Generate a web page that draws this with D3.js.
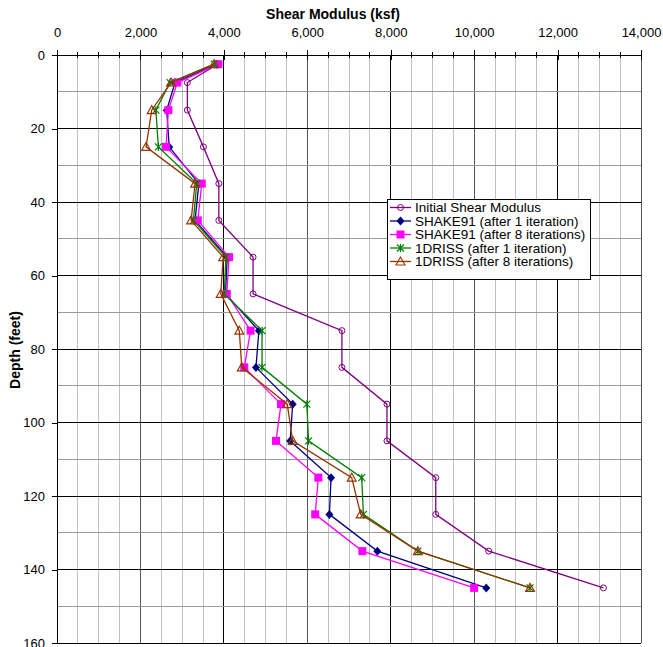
<!DOCTYPE html>
<html>
<head>
<meta charset="utf-8">
<script src="https://cdn.jsdelivr.net/npm/d3@7"></script>
<style>
  html, body { margin: 0; padding: 0; background: #fff; }
  svg { display: block; font-family: "Liberation Sans", Arial, sans-serif; }
</style>
</head>
<body>
<svg id="chart" width="663" height="647"></svg>
<script>
// Depth of each layer midpoint (feet)
const depths = [2.5, 7.5, 15, 25, 35, 45, 55, 65, 75, 85, 95, 105, 115, 125, 135, 145];

// Shear modulus profiles (ksf)
const initialG = [3850, 3125, 3125, 3510, 3880, 3880, 4700, 4700, 6830, 6830, 7910, 7910, 9080, 9080, 10350, 13100];
const shake1G  = [3830, 2830, 2630, 2690, 3400, 3310, 4080, 4040, 4840, 4770, 5650, 5590, 6570, 6530, 7680, 10290];
const shake8G  = [3870, 2885, 2670, 2615, 3470, 3375, 4125, 4070, 4640, 4490, 5370, 5250, 6265, 6190, 7320, 10000];
const driss1G  = [3770, 2710, 2370, 2430, 3350, 3270, 4050, 4010, 4915, 4915, 5990, 6030, 7305, 7345, 8650, 11340];
const driss8G  = [3765, 2735, 2270, 2135, 3310, 3215, 3985, 3925, 4370, 4430, 5520, 5650, 7065, 7280, 8650, 11340];

const seriesNames = [
  "Initial Shear Modulus",
  "SHAKE91 (after 1 iteration)",
  "SHAKE91 (after 8 iterations)",
  "1DRISS (after 1 iteration)",
  "1DRISS (after 8 iterations)"
];
const seriesColors = ["#800080", "#000080", "#FF00FF", "#008000", "#993300"];
const seriesMarkers = ["circle", "diamond", "square", "star", "triangle"];
const seriesValues = [initialG, shake1G, shake8G, driss1G, driss8G];

const xTicks = [0, 2000, 4000, 6000, 8000, 10000, 12000, 14000];
const yTicks = [0, 20, 40, 60, 80, 100, 120, 140, 160];

const svg = d3.select("#chart");
const plotLeft = 57, plotRight = 641, plotTop = 55, plotBottom = 643;

const x = d3.scaleLinear().domain([0, 14000]).range([plotLeft, plotRight]);
const y = d3.scaleLinear().domain([0, 160]).range([plotTop, plotBottom]);

// Gridlines
const grid = svg.append("g");
d3.range(500, 14001, 500).forEach(v => {
  const major = v % 2000 === 0;
  let col = "#c0c0c0";
  if (major) col = (v % 4000 === 0) ? "#000" : "#555";
  grid.append("line")
    .attr("x1", x(v)).attr("x2", x(v))
    .attr("y1", plotTop).attr("y2", plotBottom)
    .attr("stroke", col).attr("stroke-width", 1)
    .attr("shape-rendering", "crispEdges");
});
d3.range(10, 161, 10).forEach(v => {
  const major = v % 20 === 0;
  grid.append("line")
    .attr("x1", plotLeft).attr("x2", plotRight)
    .attr("y1", y(v)).attr("y2", y(v))
    .attr("stroke", major ? "#000" : "#999").attr("stroke-width", 1)
    .attr("shape-rendering", "crispEdges");
});

// Top axis
const xAxis = d3.axisTop(x).tickValues(xTicks).tickFormat(d3.format(",")).tickSize(5).tickSizeOuter(0);
const gx = svg.append("g").attr("transform", `translate(0,${plotTop})`).call(xAxis);
gx.select(".domain").attr("stroke", "#000").attr("shape-rendering", "crispEdges");
gx.selectAll(".tick line").attr("y2", -5).attr("y1", 5).attr("stroke", "#000").attr("shape-rendering", "crispEdges");
gx.selectAll(".tick text").attr("y", -18).attr("font-size", 13).attr("fill", "#000")
  .attr("font-family", "'Liberation Sans', Arial, sans-serif");
// minor ticks on the top axis
d3.range(500, 14000, 500).filter(v => v % 2000 !== 0).forEach(v => {
  svg.append("line").attr("x1", x(v)).attr("x2", x(v)).attr("y1", plotTop - 3).attr("y2", plotTop + 3)
    .attr("stroke", "#000").attr("shape-rendering", "crispEdges");
});

// Left axis
const yAxis = d3.axisLeft(y).tickValues(yTicks).tickSize(5).tickSizeOuter(0);
const gy = svg.append("g").attr("transform", `translate(${plotLeft},0)`).call(yAxis);
gy.select(".domain").attr("stroke", "#000").attr("shape-rendering", "crispEdges");
gy.selectAll(".tick line").attr("stroke", "#000").attr("shape-rendering", "crispEdges");
gy.selectAll(".tick text").attr("x", -12).attr("font-size", 13).attr("fill", "#000")
  .attr("font-family", "'Liberation Sans', Arial, sans-serif");

// Titles
svg.append("text").attr("x", (plotLeft + plotRight) / 2 - 16).attr("y", 19)
  .attr("text-anchor", "middle").attr("font-size", 14).attr("font-weight", "bold")
  .text("Shear Modulus (ksf)");
svg.append("text").attr("transform", `translate(20,350) rotate(-90)`)
  .attr("text-anchor", "middle").attr("font-size", 14).attr("font-weight", "bold")
  .text("Depth (feet)");

// Marker drawing
function drawMarker(g, type, color, cx, cy) {
  switch (type) {
    case "circle":
      g.append("circle").attr("cx", cx).attr("cy", cy).attr("r", 3)
        .attr("fill", "none").attr("stroke", color).attr("stroke-width", 1);
      break;
    case "diamond":
      g.append("path").attr("d", `M${cx},${cy - 4.5}L${cx + 4},${cy}L${cx},${cy + 4.5}L${cx - 4},${cy}Z`)
        .attr("fill", color);
      break;
    case "square":
      g.append("rect").attr("x", cx - 4).attr("y", cy - 4).attr("width", 8).attr("height", 8)
        .attr("fill", color);
      break;
    case "star":
      g.append("path")
        .attr("d", `M${cx - 3.5},${cy - 3.5}L${cx + 3.5},${cy + 3.5}M${cx - 3.5},${cy + 3.5}L${cx + 3.5},${cy - 3.5}M${cx},${cy - 4}L${cx},${cy + 4}`)
        .attr("stroke", color).attr("stroke-width", 1.2).attr("fill", "none");
      break;
    case "triangle":
      g.append("path").attr("d", `M${cx},${cy - 4.5}L${cx + 4.5},${cy + 3.5}L${cx - 4.5},${cy + 3.5}Z`)
        .attr("fill", "none").attr("stroke", color).attr("stroke-width", 1.1);
      break;
  }
}

// Series
const line = d3.line().x(d => x(d[0])).y(d => y(d[1]));
seriesValues.forEach((vals, i) => {
  const pts = vals.map((v, j) => [v, depths[j]]);
  const g = svg.append("g");
  g.append("path").datum(pts).attr("d", line)
    .attr("fill", "none").attr("stroke", seriesColors[i]).attr("stroke-width", 1.3);
  pts.forEach(p => drawMarker(g, seriesMarkers[i], seriesColors[i], x(p[0]), y(p[1])));
});

// Legend
const lg = svg.append("g").attr("transform", "translate(387,199)");
lg.append("rect").attr("x", 0.5).attr("y", 0.5).attr("width", 203).attr("height", 80)
  .attr("fill", "#fff").attr("stroke", "#000").attr("stroke-width", 1);
seriesNames.forEach((name, i) => {
  const cy = 8.5 + i * 13.5;
  lg.append("line").attr("x1", 3).attr("x2", 24).attr("y1", cy).attr("y2", cy)
    .attr("stroke", seriesColors[i]).attr("stroke-width", 1.3);
  drawMarker(lg, seriesMarkers[i], seriesColors[i], 13.5, cy);
  lg.append("text").attr("x", 28).attr("y", cy + 4.8).attr("font-size", 13.5).text(name);
});
</script>
</body>
</html>
